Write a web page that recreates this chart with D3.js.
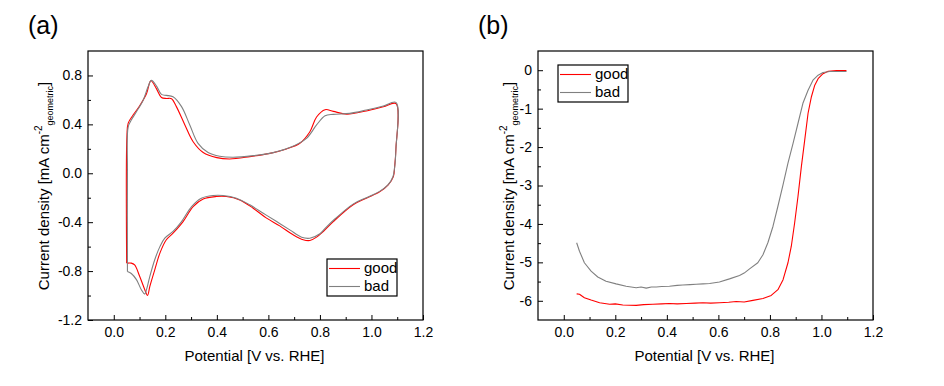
<!DOCTYPE html>
<html>
<head>
<meta charset="utf-8">
<script src="https://cdn.jsdelivr.net/npm/d3@7"></script>
<style>
  body { margin: 0; background: #fff; }
  svg { font-family: Arial, "Liberation Sans", sans-serif; }
</style>
</head>
<body>
<svg width="944" height="386"></svg>
<script>
// --------------- data

// (a) cyclic voltammograms, [potential, current]
const cvGood = [
  [0.050, -0.735], [0.051, 0.30], [0.056, 0.41], [0.075, 0.476], [0.10, 0.55], [0.127, 0.65],
  [0.144, 0.757], [0.166, 0.69], [0.185, 0.62], [0.205, 0.612], [0.224, 0.61], [0.243, 0.545],
  [0.276, 0.395], [0.308, 0.258], [0.347, 0.17], [0.40, 0.128], [0.45, 0.117], [0.528, 0.136],
  [0.606, 0.163], [0.67, 0.199], [0.722, 0.245], [0.761, 0.34], [0.787, 0.46], [0.82, 0.52],
  [0.852, 0.506], [0.904, 0.484], [0.98, 0.51], [1.046, 0.544], [1.095, 0.57],
  [1.095, 0.204], [1.09, 0.054], [1.085, -0.027], [1.065, -0.095], [1.033, -0.15], [0.98, -0.204],
  [0.929, -0.258], [0.852, -0.395], [0.813, -0.476], [0.787, -0.522], [0.761, -0.55], [0.735, -0.544],
  [0.696, -0.503], [0.644, -0.43], [0.593, -0.367], [0.541, -0.286], [0.489, -0.218], [0.437, -0.19],
  [0.398, -0.19], [0.347, -0.21], [0.308, -0.272], [0.269, -0.395], [0.23, -0.49], [0.204, -0.544],
  [0.179, -0.653], [0.159, -0.79], [0.14, -0.925], [0.131, -0.999], [0.12, -0.95], [0.10, -0.84],
  [0.081, -0.75], [0.068, -0.735], [0.053, -0.735]
];

const cvBad = [
  [0.053, -0.803], [0.053, 0.01], [0.056, 0.38], [0.068, 0.435], [0.088, 0.503], [0.114, 0.598],
  [0.133, 0.707], [0.146, 0.76], [0.166, 0.713], [0.185, 0.645], [0.204, 0.637], [0.23, 0.626],
  [0.263, 0.545], [0.295, 0.395], [0.327, 0.245], [0.366, 0.17], [0.411, 0.139], [0.463, 0.131],
  [0.541, 0.144], [0.619, 0.169], [0.683, 0.21], [0.748, 0.286], [0.787, 0.395], [0.82, 0.47],
  [0.852, 0.482], [0.916, 0.49], [0.98, 0.517], [1.046, 0.55], [1.095, 0.58],
  [1.095, 0.2], [1.09, 0.05], [1.083, -0.03], [1.063, -0.097], [1.03, -0.15], [0.98, -0.2],
  [0.93, -0.25], [0.86, -0.37], [0.82, -0.45], [0.80, -0.495], [0.761, -0.531], [0.729, -0.523],
  [0.683, -0.463], [0.632, -0.395], [0.58, -0.327], [0.528, -0.258], [0.476, -0.204], [0.424, -0.182],
  [0.385, -0.182], [0.34, -0.204], [0.302, -0.272], [0.263, -0.395], [0.23, -0.476], [0.198, -0.53],
  [0.179, -0.6], [0.159, -0.707], [0.14, -0.843], [0.127, -0.952], [0.12, -0.988], [0.107, -0.952],
  [0.088, -0.87], [0.068, -0.82], [0.053, -0.803]
];

// (b) polarisation curves, [potential, current]
const lsvGood = [
  [0.05, -5.82], [0.061, -5.83], [0.08, -5.92], [0.106, -5.98], [0.139, -6.05], [0.178, -6.09],
  [0.20, -6.08], [0.229, -6.11], [0.281, -6.12], [0.31, -6.10], [0.346, -6.09], [0.38, -6.08],
  [0.41, -6.07], [0.44, -6.08], [0.475, -6.07], [0.51, -6.06], [0.54, -6.05], [0.57, -6.06],
  [0.604, -6.05], [0.64, -6.04], [0.669, -6.02], [0.70, -6.03], [0.734, -5.99], [0.773, -5.94],
  [0.805, -5.86], [0.831, -5.71], [0.851, -5.45], [0.87, -5.01], [0.883, -4.58], [0.896, -3.97],
  [0.909, -3.28], [0.922, -2.51], [0.935, -1.82], [0.948, -1.12], [0.961, -0.69], [0.974, -0.39],
  [0.987, -0.22], [1.006, -0.09], [1.026, -0.03], [1.058, -0.01], [1.097, -0.01]
];

const lsvBad = [
  [0.05, -4.49], [0.061, -4.71], [0.08, -5.01], [0.106, -5.23], [0.132, -5.38], [0.164, -5.49],
  [0.203, -5.56], [0.242, -5.62], [0.281, -5.66], [0.30, -5.64], [0.32, -5.67], [0.34, -5.64],
  [0.359, -5.64], [0.38, -5.63], [0.41, -5.62], [0.44, -5.60], [0.462, -5.59], [0.49, -5.58],
  [0.514, -5.57], [0.54, -5.56], [0.566, -5.55], [0.604, -5.51], [0.643, -5.43], [0.682, -5.34],
  [0.70, -5.28], [0.721, -5.17], [0.753, -5.01], [0.773, -4.80], [0.792, -4.49], [0.812, -4.06],
  [0.831, -3.54], [0.851, -2.98], [0.87, -2.42], [0.89, -1.90], [0.909, -1.38], [0.928, -0.86],
  [0.948, -0.52], [0.967, -0.26], [0.987, -0.13], [1.006, -0.06], [1.032, -0.035], [1.097, -0.035]
];

const seriesNames = ['good', 'bad'];
const seriesColors = ['#ff0000', '#808080'];

const xTicks = [0.0, 0.2, 0.4, 0.6, 0.8, 1.0, 1.2];
const xMinor = [0.1, 0.3, 0.5, 0.7, 0.9, 1.1];
const yTicksA = [-1.2, -0.8, -0.4, 0.0, 0.4, 0.8];
const yMinorA = [-1.0, -0.6, -0.2, 0.2, 0.6];
const yTicksB = [-6, -5, -4, -3, -2, -1, 0];
const yMinorB = [-5.5, -4.5, -3.5, -2.5, -1.5, -0.5];

// --------------- setup
const svg = d3.select('svg');
const plotTop = 51;
const plotBottom = 320;

function drawPanel(opts) {
  const g = svg.append('g');

  const xScale = d3.scaleLinear().domain([-0.1, 1.2]).range([opts.left, opts.right]);
  const yScale = d3.scaleLinear().domain(opts.yDomain).range([plotBottom, plotTop]);

  // axes, ticks pointing inward
  g.append('g')
    .attr('transform', 'translate(0, ' + plotBottom + ')')
    .call(d3.axisBottom(xScale).tickValues(xTicks).tickSize(-5).tickPadding(7)
      .tickFormat(function (d) { return d.toFixed(1); }));
  g.append('g')
    .attr('transform', 'translate(0, ' + plotBottom + ')')
    .call(d3.axisBottom(xScale).tickValues(xMinor).tickSize(-3).tickFormat(''));
  g.append('g')
    .attr('transform', 'translate(' + opts.left + ', 0)')
    .call(d3.axisLeft(yScale).tickValues(opts.yTicks).tickSize(-5).tickPadding(6)
      .tickFormat(opts.yFormat));
  g.append('g')
    .attr('transform', 'translate(' + opts.left + ', 0)')
    .call(d3.axisLeft(yScale).tickValues(opts.yMinor).tickSize(-3).tickFormat(''));

  g.selectAll('.domain').remove();
  g.selectAll('.tick text').attr('font-size', 14).attr('fill', '#000')
    .attr('font-family', 'Arial, "Liberation Sans", sans-serif');
  g.selectAll('.tick line').attr('stroke', '#000');

  // curves
  const line = d3.line()
    .curve(opts.curve)
    .x(function (d) { return xScale(d[0]); })
    .y(function (d) { return yScale(d[1]); });

  opts.series.forEach(function (s, i) {
    g.append('path')
      .datum(s)
      .attr('d', line)
      .attr('fill', 'none')
      .attr('stroke', seriesColors[i])
      .attr('stroke-width', 1.1)
      .attr('stroke-linejoin', 'round');
  });

  // frame
  g.append('rect')
    .attr('x', opts.left)
    .attr('y', plotTop)
    .attr('width', opts.right - opts.left)
    .attr('height', plotBottom - plotTop)
    .attr('fill', 'none')
    .attr('stroke', '#000')
    .attr('stroke-width', 1.2);

  // legend
  const lg = g.append('g').attr('transform', 'translate(' + opts.legend[0] + ', ' + opts.legend[1] + ')');
  lg.append('rect')
    .attr('width', 70).attr('height', 37)
    .attr('fill', '#fff').attr('stroke', '#000').attr('stroke-width', 1.2);
  seriesNames.forEach(function (name, i) {
    lg.append('line')
      .attr('x1', 2).attr('x2', 33)
      .attr('y1', 9.5 + i * 18).attr('y2', 9.5 + i * 18)
      .attr('stroke', seriesColors[i]).attr('stroke-width', 1.1);
    lg.append('text')
      .attr('x', 37).attr('y', 14 + i * 18)
      .attr('font-size', 15)
      .text(name);
  });

  // panel label
  g.append('text')
    .attr('x', opts.left - 60).attr('y', 34)
    .attr('font-size', 25)
    .text(opts.label);

  // x title
  g.append('text')
    .attr('x', (opts.left + opts.right) / 2 - 1).attr('y', 361)
    .attr('text-anchor', 'middle')
    .attr('font-size', 15)
    .text('Potential [V vs. RHE]');

  // y title with super/subscript
  const yt = g.append('text')
    .attr('transform', 'translate(' + opts.yTitleX + ', 186) rotate(-90)')
    .attr('text-anchor', 'middle')
    .attr('font-size', 15);
  yt.append('tspan').text('Current density [mA cm');
  yt.append('tspan').attr('dy', -7).attr('font-size', 10).text('-2');
  yt.append('tspan').attr('dy', 11).attr('font-size', 9).text('geometric');
  yt.append('tspan').attr('dy', -4).text(']');
}

drawPanel({
  left: 88, right: 423,
  yDomain: [-1.2, 1.0],
  yTicks: yTicksA, yMinor: yMinorA,
  yFormat: function (d) { return d.toFixed(1); },
  series: [cvGood, cvBad],
  curve: d3.curveCatmullRom.alpha(0.5),
  legend: [327, 259],
  label: '(a)',
  yTitleX: 49
});

drawPanel({
  left: 538, right: 873,
  yDomain: [-6.5, 0.5],
  yTicks: yTicksB, yMinor: yMinorB,
  yFormat: function (d) { return String(d); },
  series: [lsvGood, lsvBad],
  curve: d3.curveLinear,
  legend: [558, 65],
  label: '(b)',
  yTitleX: 514
});
</script>
</body>
</html>
